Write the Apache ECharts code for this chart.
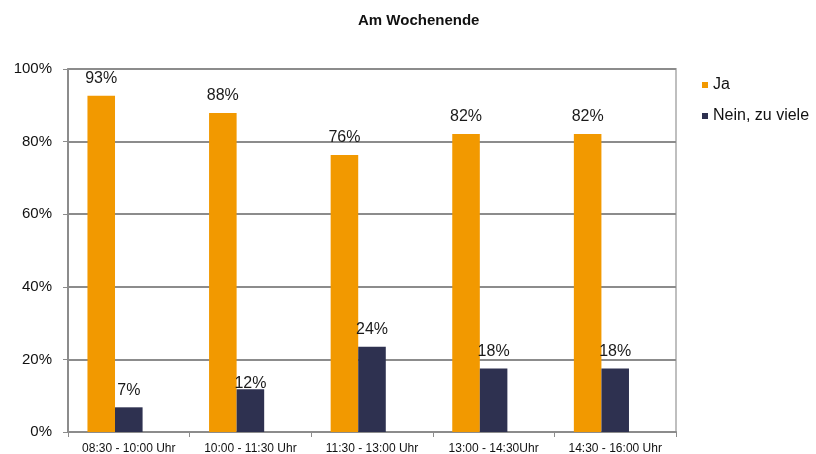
<!DOCTYPE html>
<html>
<head>
<meta charset="utf-8">
<script src="https://cdn.jsdelivr.net/npm/echarts@6/dist/echarts.min.js"></script>
<style>
  html, body { margin: 0; padding: 0; background: #fff; }
</style>
</head>
<body>
<div id="BarChart" style="width: 816px; height: 454px"></div>
<script>
const categories = ["08:30 - 10:00 Uhr", "10:00 - 11:30 Uhr", "11:30 - 13:00 Uhr", "13:00 - 14:30Uhr", "14:30 - 16:00 Uhr"];
const jaValues = [92.6, 87.9, 76.3, 82.1, 82.1];
const neinValues = [6.8, 11.8, 23.5, 17.5, 17.5];
const yTicks = [0, 20, 40, 60, 80, 100];

const chart = echarts.init(document.getElementById("BarChart"));
const font = "Liberation Sans, Arial, sans-serif";

const barLabel = {
  show: true,
  position: "top",
  distance: 9,
  color: "#1a1a1a",
  fontFamily: font,
  fontSize: 16,
  formatter: (p) => Math.round(p.value) + "%",
};

const option = {
  animation: false,
  color: ["#F29900", "#2E3150"],
  title: {
    text: "Am Wochenende",
    left: 353,
    top: 8,
    textStyle: {
      fontFamily: font,
      fontWeight: "bold",
      fontSize: 15,
      color: "#111",
    },
  },
  legend: {
    data: ["Ja", "Nein, zu viele"],
    orient: "vertical",
    left: 697,
    top: 72,
    icon: "rect",
    itemWidth: 6,
    itemHeight: 6,
    itemGap: 15,
    textStyle: {
      fontFamily: font,
      fontSize: 16,
      lineHeight: 16,
      color: "#111",
    },
  },
  grid: {
    left: 68,
    right: 140,
    top: 69,
    bottom: 22,
    outerBoundsMode: "none",
    show: true,
    borderColor: "#bfbfbf",
    borderWidth: 2,
  },
  xAxis: {
    type: "category",
    data: categories,
    axisLine: { lineStyle: { color: "#8c8c8c", width: 2 } },
    axisTick: { show: true, length: 5, lineStyle: { color: "#8c8c8c" } },
    axisLabel: {
      color: "#111",
      fontFamily: font,
      fontSize: 12,
      margin: 11,
    },
  },
  yAxis: {
    type: "value",
    min: yTicks[0],
    max: yTicks[yTicks.length - 1],
    interval: 20,
    axisLine: { show: true, lineStyle: { color: "#8c8c8c", width: 2 } },
    axisTick: { show: true, length: 5, lineStyle: { color: "#8c8c8c" } },
    splitLine: { lineStyle: { color: "#8c8c8c", width: 2 } },
    axisLabel: {
      formatter: "{value}%",
      color: "#111",
      fontFamily: font,
      fontSize: 15,
      margin: 16,
    },
  },
  series: [
    {
      name: "Ja",
      type: "bar",
      barGap: 0,
      barCategoryGap: "32%",
      label: barLabel,
      data: jaValues,
    },
    {
      name: "Nein, zu viele",
      type: "bar",
      barGap: 0,
      barCategoryGap: "32%",
      label: barLabel,
      data: neinValues.map((v, i) => (i === 1 ? { value: v, label: { distance: -2 } } : v)),
    },
    {
      // leeres drittes Feld, wie in der Vorlage (verschiebt die Balken nach links)
      name: "",
      type: "bar",
      barGap: 0,
      barCategoryGap: "32%",
      data: [],
    },
  ],
};
chart.setOption(option, true);
window.onresize = () => {
  chart.resize();
};
</script>
</body>
</html>
